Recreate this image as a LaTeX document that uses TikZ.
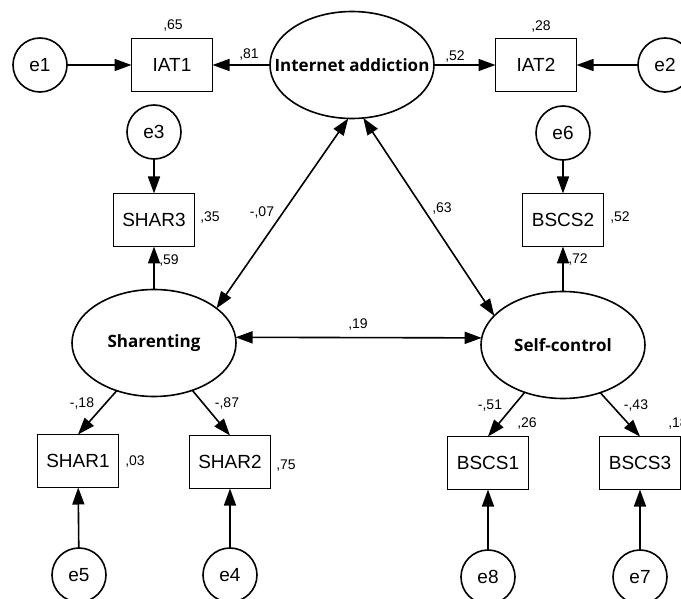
\documentclass[tikz,border=0pt]{standalone}
\usepackage{fontspec}
\setmainfont{Liberation Sans}
\newfontfamily\latentfont{Open Sans}
\usetikzlibrary{arrows.meta,shapes.geometric}
\begin{document}
\begin{tikzpicture}[x=1pt,y=-1pt,inner sep=0pt,outer sep=0pt,line width=1.6pt,
	>={Triangle[length=17pt,width=12pt]},
	obsbox/.style={draw,rectangle,minimum width=81pt,minimum height=53pt,font=\fontsize{19}{21}\selectfont},
	errcirc/.style={draw,circle,minimum size=54pt,font=\fontsize{19}{21}\selectfont},
	latent/.style={draw,ellipse,minimum width=164pt,minimum height=107pt,font=\latentfont\bfseries\fontsize{17}{19}\selectfont},
	coef/.style={font=\fontsize{14}{16}\selectfont}]
	\useasboundingbox (0,0) rectangle (681,599);
	\clip (0,0) rectangle (681,599);
	\draw (40,65) node[errcirc] (e1) {e1};
	\draw (172,65) node[obsbox] (IAT1) {IAT1};
	\draw (352,65) node[latent] (IA) {\makebox[0pt]{Internet addiction}};
	\draw (536,65) node[obsbox] (IAT2) {IAT2};
	\draw (665,65) node[errcirc] (e2) {e2};
	\draw (154,132) node[errcirc] (e3) {e3};
	\draw (154,220) node[obsbox] (SHAR3) {SHAR3};
	\draw (563,133) node[errcirc] (e6) {e6};
	\draw (563,220) node[obsbox] (BSCS2) {BSCS2};
	\draw (154,343) node[latent] (Shar) {\makebox[0pt]{Sharenting}};
	\draw (563,345) node[latent] (SC) {\makebox[0pt]{Self-control}};
	\draw (78,461) node[obsbox] (SHAR1) {SHAR1};
	\draw (230,462) node[obsbox] (SHAR2) {SHAR2};
	\draw (488,463) node[obsbox] (BSCS1) {BSCS1};
	\draw (640,463) node[obsbox] (BSCS3) {BSCS3};
	\draw (79,575) node[errcirc] (e5) {e5};
	\draw (230,575) node[errcirc] (e4) {e4};
	\draw (488,577) node[errcirc] (e8) {e8};
	\draw (640,577) node[errcirc] (e7) {e7};
	\draw[->] (e1) -- (IAT1);
	\draw[->] (IA) -- (IAT1);
	\draw[->] (IA) -- (IAT2);
	\draw[->] (e2) -- (IAT2);
	\draw[->] (e3) -- (SHAR3);
	\draw[->] (Shar) -- (SHAR3);
	\draw[->] (e6) -- (BSCS2);
	\draw[->] (SC) -- (BSCS2);
	\draw[<->] (IA.-94) -- (Shar.29);
	\draw[<->] (IA.-78) -- (SC.157);
	\draw[<->] (Shar.4) -- (SC.175);
	\draw[->] (Shar.232) -- (SHAR1.north);
	\draw[->] (Shar.-51) -- (SHAR2.north);
	\draw[->] (SC.231) -- (BSCS1.north);
	\draw[->] (SC.-52) -- (BSCS3.north);
	\draw[->] (e5) -- (SHAR1);
	\draw[->] (e4) -- (SHAR2);
	\draw[->] (e8) -- (BSCS1);
	\draw[->] (e7) -- (BSCS3);
	\node[coef] (r65) at (173,26) {,65};
	\node[coef] (w81) at (249,55) {,81};
	\node[coef] (w52) at (455,57) {,52};
	\node[coef] (r28) at (541,27) {,28};
	\node[coef] (r35) at (210,218) {,35};
	\node[coef] (w59) at (169,261) {,59};
	\node[coef] (c07) at (262,213) {-,07};
	\node[coef] (c63) at (442,209) {,63};
	\node[coef] (r52) at (620,218) {,52};
	\node[coef] (w72) at (578,260) {,72};
	\node[coef] (c19) at (358,325) {,19};
	\node[coef] (w18) at (82,404) {-,18};
	\node[coef] (w87) at (227,404) {-,87};
	\node[coef] (r03) at (135,462) {,03};
	\node[coef] (r75) at (286,466) {,75};
	\node[coef] (w51) at (490,406) {-,51};
	\node[coef] (r26) at (527,424) {,26};
	\node[coef] (w43) at (636,406) {-,43};
	\node[coef] (r18) at (678,424) {,18};
\end{tikzpicture}
\end{document}
